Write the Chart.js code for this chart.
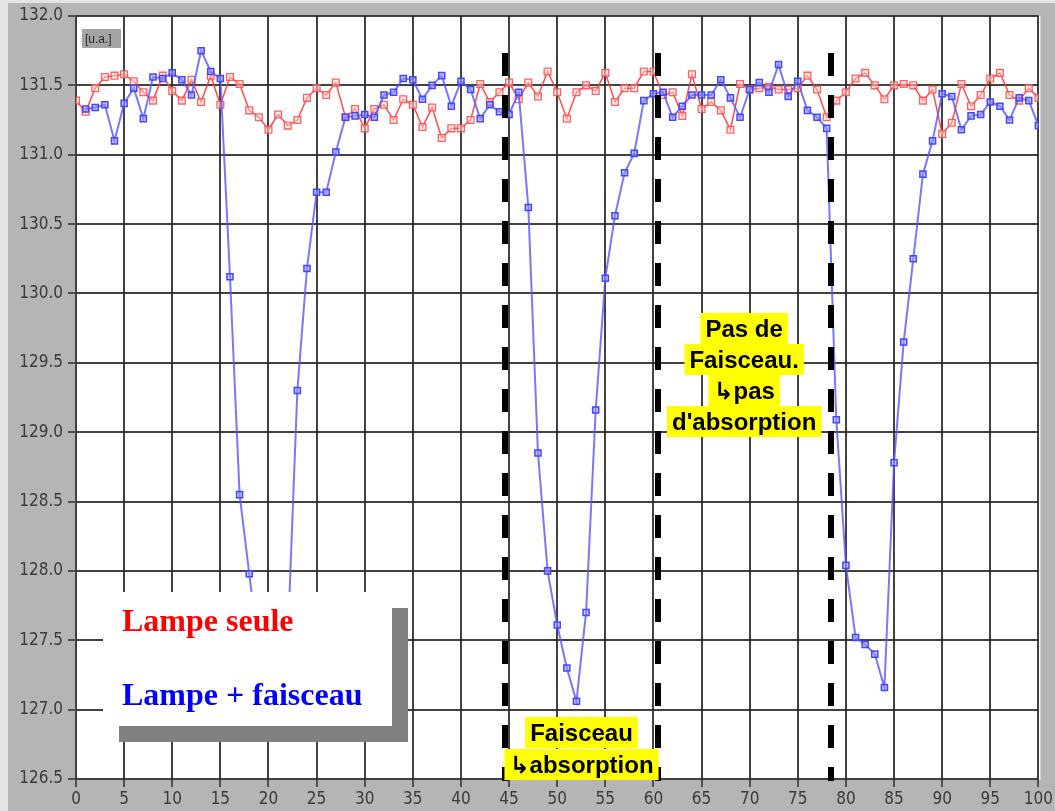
<!DOCTYPE html>
<html><head><meta charset="utf-8">
<script src="https://cdn.jsdelivr.net/npm/chart.js@4.4.1/dist/chart.umd.min.js"></script>
<style>html,body{margin:0;padding:0;background:#b5b5b5;overflow:hidden}</style></head>
<body><canvas id="c" width="1055" height="811"></canvas>
<script>
// Signal [u.a.] per sample index 0..100
const lampeSeule = [
131.39,131.31,131.48,131.56,131.57,131.58,131.53,131.45,131.39,131.57,
131.46,131.39,131.54,131.38,131.57,131.36,131.56,131.51,131.32,131.27,
131.18,131.29,131.21,131.25,131.41,131.48,131.43,131.52,131.27,131.33,
131.19,131.33,131.36,131.25,131.40,131.36,131.20,131.34,131.12,131.19,
131.19,131.25,131.51,131.38,131.45,131.52,131.40,131.52,131.42,131.60,
131.45,131.26,131.45,131.50,131.46,131.59,131.38,131.48,131.48,131.60,
131.60,131.43,131.45,131.28,131.58,131.33,131.38,131.32,131.18,131.51,
131.47,131.48,131.49,131.47,131.47,131.48,131.57,131.47,131.27,131.39,
131.45,131.55,131.59,131.50,131.40,131.50,131.51,131.50,131.39,131.47,
131.15,131.23,131.51,131.35,131.43,131.55,131.59,131.43,131.39,131.48,
131.41];
const lampeFaisceau = [
null,131.33,131.34,131.36,131.10,131.37,131.48,131.26,131.56,131.55,
131.59,131.54,131.43,131.75,131.60,131.55,130.12,128.55,127.98,127.40,
127.10,127.15,127.50,129.30,130.18,130.73,130.73,131.02,131.27,131.28,
131.29,131.27,131.43,131.45,131.55,131.54,131.40,131.50,131.57,131.35,
131.53,131.47,131.26,131.36,131.31,131.29,131.45,130.62,128.85,128.00,
127.61,127.30,127.06,127.70,129.16,130.11,130.56,130.87,131.01,131.39,
131.44,131.45,131.27,131.35,131.43,131.43,131.43,131.54,131.41,131.27,
131.47,131.52,131.45,131.65,131.42,131.53,131.32,131.27,131.19,129.09,
128.04,127.52,127.47,127.40,127.16,128.78,129.65,130.25,130.86,131.10,
131.44,131.42,131.18,131.28,131.29,131.38,131.35,131.25,131.41,131.39,
131.21];
const xTicks = [0,5,10,15,20,25,30,35,40,45,50,55,60,65,70,75,80,85,90,95,100];
const yTicks = [126.5,127.0,127.5,128.0,128.5,129.0,129.5,130.0,130.5,131.0,131.5,132.0];
const dashedAt = [44.6, 60.45, 78.4];
const legendTexts = ['Lampe seule', 'Lampe + faisceau'];
const noBeamNote = ['Pas de', 'Faisceau.', '\u21B3pas', "d'absorption"];
const beamNote = ['Faisceau', '\u21B3absorption'];
const unitLabel = '[u.a.]';

const tickFont = {family:"'Liberation Sans Narrow','DejaVu Sans Condensed','Liberation Sans',sans-serif", size:17};

const overlay = {
  id:'overlay',
  beforeDraw(chart){
    const {ctx, chartArea:a} = chart;
    ctx.save();
    ctx.fillStyle='#b5b5b5'; ctx.fillRect(0,0,chart.width,chart.height);
    ctx.fillStyle='#e4e4e4'; ctx.fillRect(0,0,8,chart.height); ctx.fillRect(0,0,chart.width,3);
    ctx.fillStyle='#ffffff'; ctx.fillRect(a.left-1, a.top, a.right-a.left+3, a.bottom-a.top+1);
    ctx.restore();
  },
  afterDatasetsDraw(chart){
    const {ctx, scales:{x,y}, chartArea:a} = chart;
    ctx.save();
    // [u.a.] label
    ctx.fillStyle='#a4a4a4'; ctx.fillRect(a.left+6, a.top+13, 39, 19);
    ctx.fillStyle='#2a2a2a'; ctx.font="12px 'Liberation Sans',sans-serif"; ctx.textBaseline='alphabetic'; ctx.textAlign='left';
    ctx.fillText(unitLabel, a.left+9, a.top+27);
    // dashed markers
    ctx.strokeStyle='#000'; ctx.lineWidth=6; ctx.setLineDash([23,19]);
    for (const v of dashedAt){
      const px = Math.round(x.getPixelForValue(v));
      ctx.beginPath(); ctx.moveTo(px, a.top+37); ctx.lineTo(px, a.bottom+2); ctx.stroke();
    }
    ctx.setLineDash([]);
    // legend box with shadow
    ctx.fillStyle='#808080'; ctx.fillRect(119, 608, 289, 134);
    ctx.fillStyle='#ffffff'; ctx.fillRect(103, 592, 289, 134);
    ctx.font="bold 32px 'Liberation Serif','Times New Roman',serif"; ctx.textAlign='left';
    ctx.fillStyle='#ff0000'; ctx.fillText(legendTexts[0], 122, 631);
    ctx.fillStyle='#0000ff'; ctx.fillText(legendTexts[1], 122, 705);
    // yellow notes
    ctx.font="bold 24px 'Liberation Sans',Arial,'DejaVu Sans',sans-serif"; ctx.textAlign='center';
    const note = (lines, cx, base0, step) => {
      lines.forEach((t,i)=>{
        const b = base0 + i*step, w = ctx.measureText(t).width + 10;
        ctx.fillStyle='#ffff00'; ctx.fillRect(cx - w/2, b-24, w, 31);
      });
      lines.forEach((t,i)=>{ ctx.fillStyle='#000'; ctx.fillText(t, cx, base0 + i*step); });
    };
    note(noBeamNote, x.getPixelForValue((dashedAt[1]+dashedAt[2])/2), 337, 31);
    note(beamNote, x.getPixelForValue((dashedAt[0]+dashedAt[1])/2), 741, 32);
    ctx.restore();
  }
};

const gridOpts = {color:'rgba(40,40,40,0.88)', lineWidth:2, tickLength:8, tickColor:'#505050'};
new Chart(document.getElementById('c'), {
  type:'line',
  data:{datasets:[
    {label:legendTexts[1], data:lampeFaisceau.map((v,i)=>({x:i,y:v})), borderColor:'rgba(85,85,255,0.8)', borderWidth:2,
     pointStyle:'rect', pointRadius:4.3, pointBorderColor:'#4646ff', pointBackgroundColor:'rgba(150,150,255,0.55)', pointBorderWidth:1.5, order:0},
    {label:legendTexts[0], data:lampeSeule.map((v,i)=>({x:i,y:v})), borderColor:'rgba(255,55,55,0.9)', borderWidth:1.5,
     pointStyle:'rect', pointRadius:4.8, pointBorderColor:'rgba(255,80,80,0.9)', pointBackgroundColor:'rgba(255,215,215,0.5)', pointBorderWidth:1.3, order:1}
  ]},
  options:{
    responsive:false, animation:false, devicePixelRatio:1,
    layout:{padding:{left:0,right:14,top:16,bottom:0}},
    plugins:{legend:{display:false}, tooltip:{enabled:false}},
    elements:{line:{tension:0}},
    scales:{
      x:{type:'linear', min:0, max:100,
         afterBuildTicks:s=>{s.ticks = xTicks.map(v=>({value:v}));},
         afterFit:s=>{s.height = 32;},
         grid:gridOpts, border:{display:false},
         ticks:{font:tickFont, color:'#3a3a3a', padding:2, maxRotation:0, autoSkip:false, callback:v=>String(v)}},
      y:{type:'linear', min:126.5, max:132,
         afterBuildTicks:s=>{s.ticks = yTicks.map(v=>({value:v}));},
         afterFit:s=>{s.width = 76;},
         grid:gridOpts, border:{display:false},
         ticks:{font:tickFont, color:'#3a3a3a', padding:5, autoSkip:false, callback:v=>Number(v).toFixed(1)}}
    }
  },
  plugins:[overlay]
});
</script></body></html>
